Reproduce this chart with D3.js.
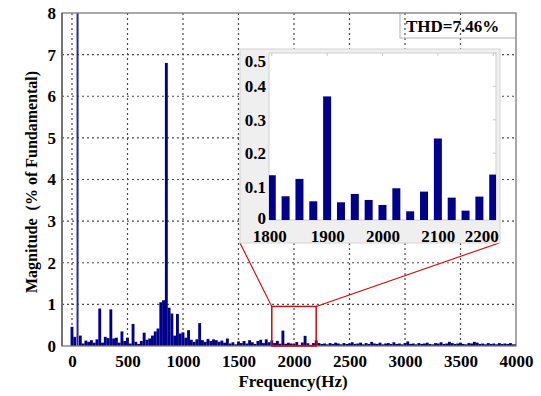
<!DOCTYPE html>
<html>
<head>
<meta charset="utf-8">
<script src="https://cdn.jsdelivr.net/npm/d3@7"></script>
<style>
  body { margin: 0; background: #fff; }
  text { font-family: "Liberation Serif", "Times New Roman", serif; font-weight: bold; fill: #000; }
</style>
</head>
<body>
<svg id="chart" width="541" height="396"></svg>
<script>
// harmonic spectrum, 25 Hz bins, % of fundamental
var binStep = 25;
var lowStart = 0;
var lowMag = [0.46, 0.22, 100, 0.25, 0.06, 0.13, 0.1, 0.14, 0.08, 0.16,
              0.9, 0.08, 0.22, 0.19, 0.88, 0.18, 0.2, 0.08, 0.35, 0.12,
              0.2, 0.06, 0.53, 0.1, 0.05, 0.12, 0.32, 0.15, 0.18, 0.25,
              0.35, 0.42, 1.05, 1.1, 6.8, 0.92, 0.78, 0.25, 0.77, 0.3,
              0.33, 0.2, 0.38, 0.15, 0.1, 0.16, 0.55, 0.14, 0.1, 0.17,
              0.12, 0.16, 0.14, 0.1, 0.13, 0.08, 0.18, 0.06, 0.09, 0.04,
              0.11, 0.07, 0.12, 0.06, 0.14, 0.09, 0.05, 0.12, 0.15, 0.07,
              0.16, 0.09];
var zoomStart = 1800;
var zoomMag = [0.134, 0.071, 0.123, 0.056, 0.37, 0.053, 0.078, 0.06, 0.045,
               0.095, 0.026, 0.085, 0.244, 0.067, 0.028, 0.07, 0.136];
var highStart = 2225;
var highMag = [0.07, 0.05, 0.06, 0.04, 0.07, 0.05, 0.08, 0.06, 0.04, 0.07,
               0.05, 0.06, 0.09, 0.05, 0.06, 0.08, 0.04, 0.07, 0.05, 0.1,
               0.06, 0.05, 0.08, 0.04, 0.06, 0.07, 0.05, 0.09, 0.05, 0.06,
               0.04, 0.07, 0.11, 0.05, 0.06, 0.04, 0.07, 0.05, 0.06, 0.08,
               0.05, 0.04, 0.07, 0.06, 0.09, 0.05, 0.06, 0.1, 0.07, 0.05,
               0.06, 0.08, 0.05, 0.04, 0.07, 0.06, 0.1, 0.08, 0.05, 0.06,
               0.04, 0.07, 0.05, 0.06, 0.04, 0.07, 0.05, 0.06, 0.05, 0.07,
               0.04, 0.05];
var xTicks = [0, 500, 1000, 1500, 2000, 2500, 3000, 3500, 4000];
var yTicks = [0, 1, 2, 3, 4, 5, 6, 7, 8];
var zoomXTicks = [1800, 1900, 2000, 2100, 2200];
var zoomYTicks = [0, 0.1, 0.2, 0.3, 0.4, 0.5];
var zoomBoxTop = 0.95;
var thdText = 'THD=7.46%';

function band(start, mags) {
  return mags.map(function(m, i) { return { f: start + i * binStep, m: m }; });
}
var spectrum = band(lowStart, lowMag).concat(band(zoomStart, zoomMag), band(highStart, highMag));
var zoomData = band(zoomStart, zoomMag);

var barColor = '#00008b';
var svg = d3.select('#chart');

// main axes
var L = 62, T = 13, R = 516, B = 346;
var x = d3.scaleLinear().domain([-90, 4000]).range([L, R]);
var y = d3.scaleLinear().domain([0, 8]).range([B, T]);

svg.append('defs').append('clipPath').attr('id', 'mainClip')
   .append('rect').attr('x', L).attr('y', T).attr('width', R - L).attr('height', B - T);

// grid
var grid = svg.append('g').attr('class', 'grid');
grid.selectAll('.vg').data(xTicks.filter(function(d) { return x(d) < R - 1; }))
    .enter().append('line').attr('class', 'vg')
    .attr('x1', function(d) { return x(d); }).attr('x2', function(d) { return x(d); })
    .attr('y1', T).attr('y2', B);
grid.selectAll('.hg').data(yTicks.filter(function(d) { return d > 0 && y(d) > T + 1; }))
    .enter().append('line').attr('class', 'hg')
    .attr('x1', L).attr('x2', R)
    .attr('y1', function(d) { return y(d); }).attr('y2', function(d) { return y(d); });
grid.selectAll('line').style('stroke', '#4a4a4a').style('stroke-width', 1.2).style('stroke-dasharray', '2,3');

// THD box
svg.append('path').attr('d', 'M400,' + T + 'V38H' + R)
   .style('fill', 'none').style('stroke', '#b0b0b0').style('stroke-width', 1);
svg.append('text').attr('x', 406).attr('y', 32).style('font-size', '17px').text(thdText);

// spectrum bars (the fundamental is drawn as a thin line, as in the original)
var bw = x(binStep) - x(0) + 0.1;
function barW(d) { return d.m > 50 ? 2 : bw; }
svg.append('g').attr('clip-path', 'url(#mainClip)')
   .selectAll('rect').data(spectrum).enter().append('rect')
   .attr('x', function(d) { return x(d.f) - barW(d) / 2; })
   .attr('width', barW)
   .attr('y', function(d) { return y(d.m); })
   .attr('height', function(d) { return B - y(d.m); })
   .style('fill', function(d) { return d.m > 50 ? '#2424a8' : barColor; });

// frame
svg.append('rect').attr('x', L).attr('y', T).attr('width', R - L).attr('height', B - T)
   .style('fill', 'none').style('stroke', '#7a7a7a').style('stroke-width', 1.3);
svg.append('line').attr('x1', L).attr('x2', L).attr('y1', T).attr('y2', B)
   .style('stroke', '#666').style('stroke-width', 1.6);

// axis labels
var xAxis = svg.append('g').attr('transform', 'translate(0,' + B + ')')
   .call(d3.axisBottom(x).tickValues(xTicks).tickSize(0).tickPadding(9).tickFormat(d3.format('d')));
var yAxis = svg.append('g').attr('transform', 'translate(' + L + ',0)')
   .call(d3.axisLeft(y).tickValues(yTicks).tickSize(0).tickPadding(6).tickFormat(d3.format('d')));
[xAxis, yAxis].forEach(function(a) {
  a.select('.domain').remove();
  a.selectAll('text').style('font-size', '17px').style('font-family', '"Liberation Serif", serif').style('font-weight', 'bold');
});

svg.append('text').attr('x', 293).attr('y', 387).attr('text-anchor', 'middle')
   .style('font-size', '17px').text('Frequency(Hz)');
svg.append('text').attr('transform', 'translate(37,182) rotate(-90)').attr('text-anchor', 'middle')
   .style('font-size', '16px').style('white-space', 'pre').text('Magnitude  (% of Fundamental)');

// zoom rectangle and connector lines
var pL = 240, pT = 49, pR = 500, pB = 243;
var zx0 = x(1800), zx1 = x(2200), zyT = y(zoomBoxTop);
svg.append('rect').attr('x', zx0).attr('y', zyT).attr('width', zx1 - zx0).attr('height', B - zyT)
   .style('fill', 'none').style('stroke', '#e00000').style('stroke-width', 1.5);
svg.append('line').attr('x1', zx0).attr('y1', zyT).attr('x2', pL).attr('y2', pB)
   .style('stroke', '#e00000').style('stroke-width', 1.1);
svg.append('line').attr('x1', zx1).attr('y1', zyT).attr('x2', pR - 1).attr('y2', pB)
   .style('stroke', '#e00000').style('stroke-width', 1.1);

// inset
var iL = 269, iT = 53, iR = 496, iB = 220;
var ix = d3.scaleLinear().domain([1795, 2205]).range([iL, iR]);
var iy = d3.scaleLinear().domain([0, 0.5]).range([iB, iT]);

svg.append('rect').attr('x', pL).attr('y', pT).attr('width', pR - pL).attr('height', pB - pT)
   .style('fill', '#efefef').style('stroke', '#d4d4d4').style('stroke-width', 1);
svg.append('rect').attr('x', iL).attr('y', iT).attr('width', iR - iL).attr('height', iB - iT)
   .style('fill', '#fff').style('stroke', '#cfcfcf').style('stroke-width', 1);
svg.select('defs').append('clipPath').attr('id', 'insetClip')
   .append('rect').attr('x', iL).attr('y', iT).attr('width', iR - iL).attr('height', iB - iT);

// faint mirrored ticks
var inTicks = svg.append('g').style('stroke', '#c8c8c8').style('stroke-width', 1);
inTicks.selectAll('.tt').data(zoomXTicks).enter().append('line')
   .attr('x1', function(d) { return ix(d); }).attr('x2', function(d) { return ix(d); })
   .attr('y1', iT).attr('y2', iT + 3);
inTicks.selectAll('.rt').data(zoomYTicks).enter().append('line')
   .attr('x1', iR - 3).attr('x2', iR)
   .attr('y1', function(d) { return iy(d); }).attr('y2', function(d) { return iy(d); });

var ibw = 8;
svg.append('g').attr('clip-path', 'url(#insetClip)')
   .selectAll('rect').data(zoomData).enter().append('rect')
   .attr('x', function(d) { return ix(d.f) - ibw / 2; })
   .attr('width', ibw)
   .attr('y', function(d) { return iy(d.m); })
   .attr('height', function(d) { return iB - iy(d.m); })
   .style('fill', barColor);

var ixAxis = svg.append('g').attr('transform', 'translate(0,' + iB + ')')
   .call(d3.axisBottom(ix).tickValues(zoomXTicks).tickSize(0).tickPadding(10).tickFormat(d3.format('d')));
var iyAxis = svg.append('g').attr('transform', 'translate(' + (iL - 3) + ',0)')
   .call(d3.axisLeft(iy).tickValues(zoomYTicks).tickSize(0).tickPadding(0)
   .tickFormat(function(d) { return d === 0 ? '0' : d3.format('.1f')(d); }));
[ixAxis, iyAxis].forEach(function(a) {
  a.select('.domain').remove();
  a.selectAll('text').style('font-size', '17px').style('font-family', '"Liberation Serif", serif').style('font-weight', 'bold');
});
// keep end labels inside the panel
ixAxis.selectAll('.tick').filter(function(d) { return d === 2200; }).select('text')
   .attr('text-anchor', 'end').attr('dx', '0.3em');
ixAxis.selectAll('.tick').filter(function(d) { return d === 1800; }).select('text')
   .attr('dx', '-0.15em');
iyAxis.selectAll('.tick').filter(function(d) { return d === 0.5; }).select('text').attr('dy', '0.8em');
iyAxis.selectAll('.tick').filter(function(d) { return d === 0; }).select('text').attr('dy', '0.2em');
</script>
</body>
</html>
